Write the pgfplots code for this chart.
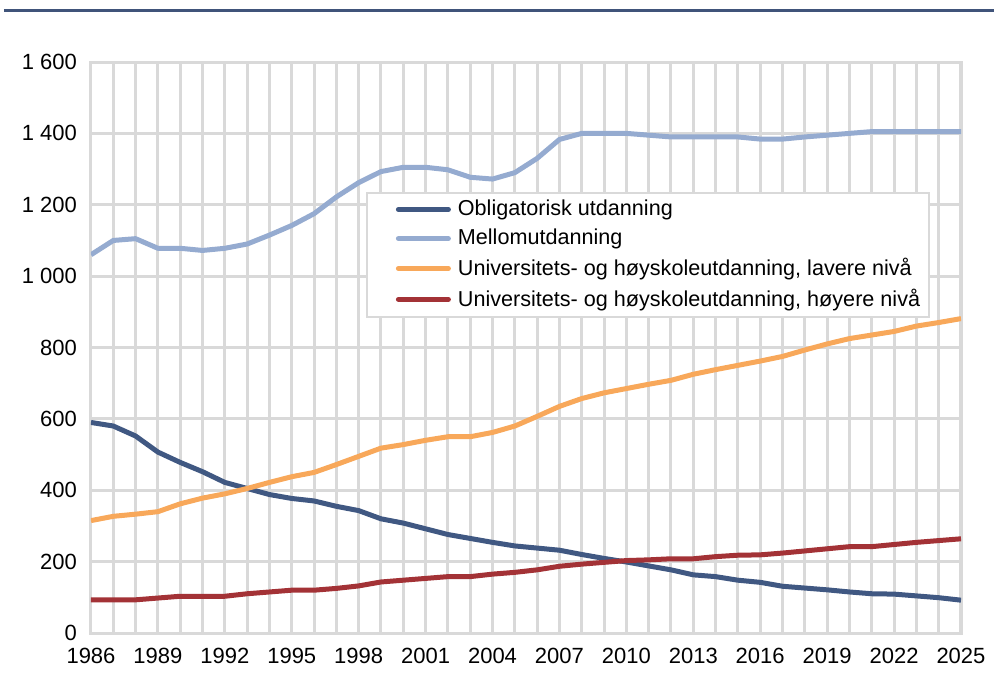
\documentclass[border=0pt]{standalone}
\usepackage{fontspec}
\setmainfont{Liberation Sans}
\usepackage{pgfplots}
\pgfplotsset{compat=1.18}

\definecolor{gridgray}{HTML}{D9D9D9}
\definecolor{darkblue}{HTML}{405882}
\definecolor{lightblue}{HTML}{95ABD0}
\definecolor{lightorange}{HTML}{F8A85A}
\definecolor{darkred}{HTML}{A33236}
\definecolor{rulecol}{HTML}{40547A}

\begin{document}
\begin{tikzpicture}
\path[use as bounding box] (-45.5pt,-30pt) rectangle (451.5pt,316.5pt);
\draw[line width=1.5pt, rulecol] (-43.5pt,311.5pt) -- (451.5pt,311.5pt);
\begin{axis}[
    scale only axis,
    width=435pt, height=285.5pt,
    xmin=1986, xmax=2025,
    ymin=0, ymax=1600,
    xtick={1986,1989,...,2025},
    minor xtick={1986,...,2025},
    ytick={0,200,...,1600},
    grid=both,
    grid style={gridgray, line width=1.5pt},
    minor grid style={gridgray, line width=1.5pt},
    axis line style={gridgray, line width=1.5pt},
    major tick length=0pt, minor tick length=0pt,
    tick label style={font=\fontsize{11}{13}\selectfont},
    xticklabel style={yshift=-4pt},
    yticklabel style={xshift=-3.5pt},
    /pgf/number format/assume math mode=true,
    /pgf/number format/1000 sep={~},
    xticklabel={\pgfmathprintnumber[1000 sep={}]{\tick}},
    legend style={at={(0.316,0.772)}, anchor=north west, draw=gridgray,
        line width=1pt, fill=white, inner xsep=2.5pt, inner ysep=1.5pt,
        font=\fontsize{10.8}{13}\selectfont, row sep=1.2pt},
    legend cell align=left,
    legend image code/.code={%
        \path (-12pt,0pt) (26.5pt,0pt);
        \draw[#1, line cap=round] (0pt,0pt) -- (25pt,0pt);},
    every axis plot/.append style={line width=2.5pt, line join=round},
]
\addplot[darkblue] coordinates {
    (1986,590) (1987,580) (1988,552) (1989,507) (1990,478)
    (1991,452) (1992,422) (1993,405) (1994,388) (1995,377)
    (1996,370) (1997,355) (1998,343) (1999,320) (2000,308)
    (2001,292) (2002,276) (2003,265) (2004,254) (2005,244)
    (2006,238) (2007,232) (2008,220) (2009,209) (2010,199)
    (2011,188) (2012,177) (2013,163) (2014,158) (2015,148)
    (2016,142) (2017,131) (2018,126) (2019,121) (2020,115)
    (2021,110) (2022,109) (2023,104) (2024,99) (2025,92)
};
\addlegendentry{Obligatorisk utdanning}

\addplot[lightblue] coordinates {
    (1986,1060) (1987,1100) (1988,1105) (1989,1078) (1990,1078)
    (1991,1072) (1992,1078) (1993,1090) (1994,1115) (1995,1142)
    (1996,1175) (1997,1222) (1998,1262) (1999,1293) (2000,1305)
    (2001,1305) (2002,1298) (2003,1277) (2004,1272) (2005,1290)
    (2006,1330) (2007,1383) (2008,1400) (2009,1400) (2010,1400)
    (2011,1395) (2012,1390) (2013,1390) (2014,1390) (2015,1390)
    (2016,1384) (2017,1384) (2018,1390) (2019,1395) (2020,1400)
    (2021,1405) (2022,1405) (2023,1405) (2024,1405) (2025,1405)
};
\addlegendentry{Mellomutdanning}

\addplot[lightorange] coordinates {
    (1986,315) (1987,327) (1988,333) (1989,340) (1990,362)
    (1991,378) (1992,390) (1993,405) (1994,422) (1995,438)
    (1996,450) (1997,472) (1998,495) (1999,518) (2000,528)
    (2001,540) (2002,550) (2003,550) (2004,562) (2005,580)
    (2006,607) (2007,635) (2008,657) (2009,673) (2010,685)
    (2011,697) (2012,708) (2013,725) (2014,738) (2015,750)
    (2016,762) (2017,775) (2018,793) (2019,810) (2020,825)
    (2021,835) (2022,845) (2023,860) (2024,870) (2025,881)
};
\addlegendentry{Universitets- og høyskoleutdanning, lavere nivå}

\addplot[darkred] coordinates {
    (1986,93) (1987,93) (1988,93) (1989,98) (1990,103)
    (1991,103) (1992,103) (1993,110) (1994,115) (1995,120)
    (1996,120) (1997,125) (1998,132) (1999,143) (2000,148)
    (2001,153) (2002,158) (2003,158) (2004,165) (2005,170)
    (2006,177) (2007,187) (2008,193) (2009,198) (2010,203)
    (2011,205) (2012,208) (2013,208) (2014,214) (2015,218)
    (2016,219) (2017,224) (2018,230) (2019,236) (2020,242)
    (2021,242) (2022,248) (2023,254) (2024,259) (2025,264)
};
\addlegendentry{Universitets- og høyskoleutdanning, høyere nivå}
\end{axis}
\end{tikzpicture}
\end{document}
